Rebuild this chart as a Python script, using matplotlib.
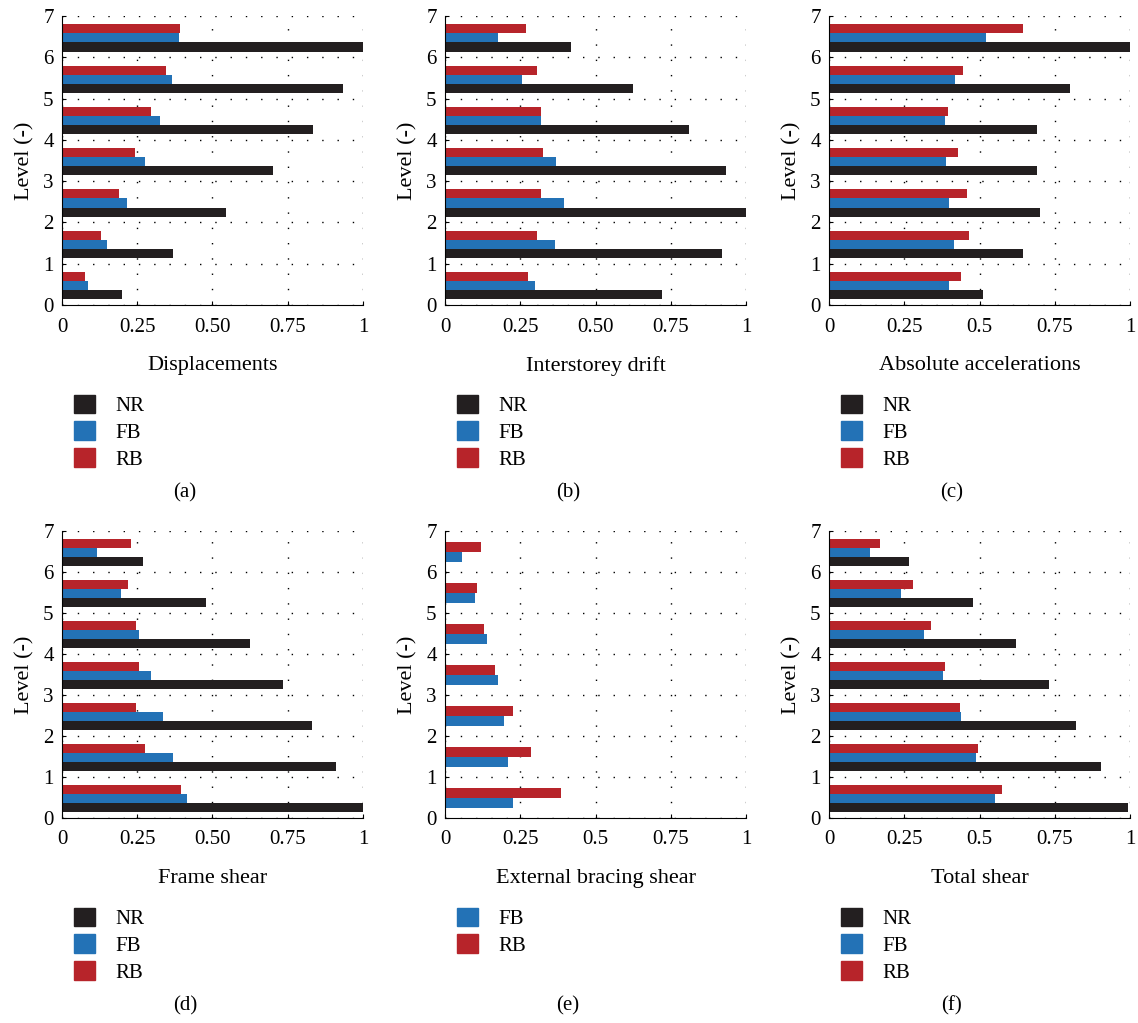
import numpy as np
import matplotlib.pyplot as plt
from matplotlib.patches import Patch

plt.rcParams['font.family'] = ['Liberation Serif', 'DejaVu Serif']

levels = np.arange(1, 8)

disp_nr = [0.20, 0.37, 0.545, 0.70, 0.835, 0.935, 1.0]
disp_fb = [0.085, 0.148, 0.217, 0.277, 0.325, 0.367, 0.39]
disp_rb = [0.078, 0.13, 0.188, 0.243, 0.297, 0.347, 0.393]

drift_nr = [0.72, 0.92, 1.0, 0.935, 0.81, 0.625, 0.42]
drift_fb = [0.30, 0.365, 0.395, 0.37, 0.32, 0.255, 0.175]
drift_rb = [0.275, 0.305, 0.32, 0.325, 0.32, 0.305, 0.27]

acc_nr = [0.51, 0.645, 0.70, 0.69, 0.69, 0.80, 1.0]
acc_fb = [0.40, 0.415, 0.40, 0.39, 0.385, 0.42, 0.52]
acc_rb = [0.44, 0.465, 0.46, 0.43, 0.395, 0.445, 0.645]

frame_nr = [1.0, 0.91, 0.83, 0.735, 0.625, 0.48, 0.27]
frame_fb = [0.415, 0.37, 0.335, 0.295, 0.255, 0.195, 0.115]
frame_rb = [0.395, 0.275, 0.245, 0.255, 0.245, 0.22, 0.23]

brace_fb = [0.225, 0.21, 0.195, 0.175, 0.14, 0.10, 0.055]
brace_rb = [0.385, 0.285, 0.225, 0.165, 0.13, 0.105, 0.12]

total_nr = [0.995, 0.905, 0.82, 0.73, 0.62, 0.48, 0.265]
total_fb = [0.55, 0.49, 0.44, 0.38, 0.315, 0.24, 0.135]
total_rb = [0.575, 0.495, 0.435, 0.385, 0.34, 0.28, 0.17]

colors = {'NR': '#231f20', 'FB': '#2372b6', 'RB': '#b7242a'}
xticks = [0, 0.25, 0.5, 0.75, 1]

panels = [
    ('Displacements', '(a)', {'NR': disp_nr, 'FB': disp_fb, 'RB': disp_rb}, ['0', '0.25', '0.50', '0.75', '1']),
    ('Interstorey drift', '(b)', {'NR': drift_nr, 'FB': drift_fb, 'RB': drift_rb}, ['0', '0.25', '0.50', '0.75', '1']),
    ('Absolute accelerations', '(c)', {'NR': acc_nr, 'FB': acc_fb, 'RB': acc_rb}, ['0', '0.25', '0.5', '0.75', '1']),
    ('Frame shear', '(d)', {'NR': frame_nr, 'FB': frame_fb, 'RB': frame_rb}, ['0', '0.25', '0.50', '0.75', '1']),
    ('External bracing shear', '(e)', {'FB': brace_fb, 'RB': brace_rb}, ['0', '0.25', '0.5', '0.75', '1']),
    ('Total shear', '(f)', {'NR': total_nr, 'FB': total_fb, 'RB': total_rb}, ['0', '0.25', '0.5', '0.75', '1']),
]

W, H = 1138, 1023
fig = plt.figure(figsize=(W / 100, H / 100), dpi=100)
lefts = [62, 445, 829]
rows = [(16, 305), (531, 818)]

for i, (xlab, cap, series, xtl) in enumerate(panels):
    r, c = divmod(i, 3)
    top, bot = rows[r]
    x0 = lefts[c]
    ax = fig.add_axes([x0 / W, 1 - bot / H, 301 / W, (bot - top) / H])
    if len(series) == 3:
        offs = {'NR': 0.25, 'FB': 0.47, 'RB': 0.69}
        h = 0.22
    else:
        offs = {'FB': 0.36, 'RB': 0.60}
        h = 0.24
    for name, vals in series.items():
        ax.barh(levels - 1 + offs[name], vals, height=h, color=colors[name])
    ax.set_xlim(0, 1)
    ax.set_ylim(0, 7)
    ax.set_xticks(xticks)
    ax.set_xticklabels(xtl)
    ax.set_yticks(range(8))
    ax.tick_params(labelsize=15, direction='in', length=3)
    ax.tick_params(axis='x', pad=9)
    ax.tick_params(axis='y', pad=6)
    ax.grid(True, color='black', linestyle=(0, (1, 10)), linewidth=1)
    ax.set_axisbelow(True)
    for s in ['top', 'right']:
        ax.spines[s].set_visible(False)
    ax.set_xlabel(xlab, fontsize=16, labelpad=14)
    ax.set_ylabel('Level (-)', fontsize=16, labelpad=6)
    handles = [Patch(color=colors[n], label=n) for n in series]
    fig.legend(handles=handles, loc='upper left',
               bbox_to_anchor=(x0 / W - 0.006, 1 - (bot + 71) / H),
               frameon=False, fontsize=15, handlelength=1.0, handleheight=1.0,
               labelspacing=0.25, handletextpad=1.0)
    fig.text((x0 + 123) / W, 1 - (bot + 188) / H, cap, fontsize=15,
             ha='center', va='center')

fig.savefig('out.png', dpi=100)
